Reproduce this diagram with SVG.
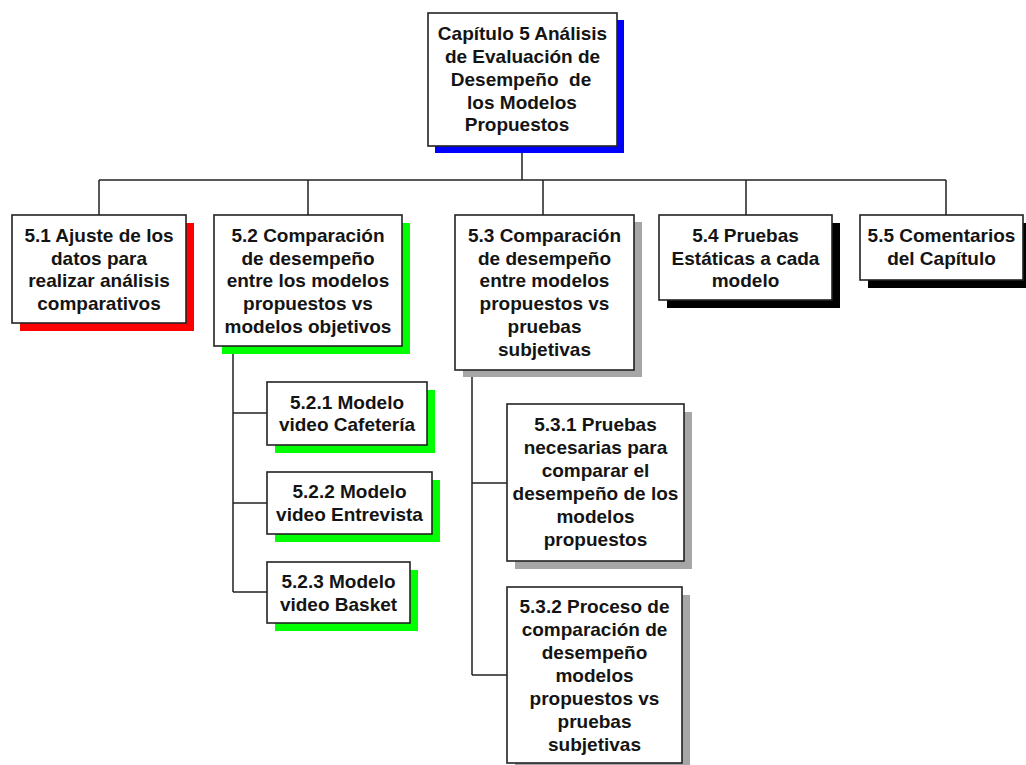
<svg xmlns="http://www.w3.org/2000/svg" width="1026" height="765" viewBox="0 0 1026 765">
<style>
.box{fill:#fff;stroke:#222;stroke-width:1.6}
.t{font-family:"Liberation Sans",Arial,sans-serif;font-weight:bold;font-size:19px;fill:#141414;text-anchor:middle}
.c{fill:none;stroke:#222;stroke-width:1.5}
</style>
<rect width="1026" height="765" fill="#fff"/>
<g id="connectors">
<path class="c" d="M522 146V180M99 180H946M99 180V215M308 180V215M543 180V215M746 180V215M946 180V215"/>
<path class="c" d="M233 346V592M233 413H267M233 503H267M233 592H267"/>
<path class="c" d="M472 370V675M472 483H507M472 675H507"/>
</g>
<g id="n0">
<rect x="435" y="20" width="189" height="133" fill="#0000ff"/>
<rect class="box" x="428" y="13" width="189" height="133"/>
<text class="t"><tspan x="522.5" y="40">Capítulo 5 Análisis</tspan><tspan x="522.5" y="63">de Evaluación de</tspan><tspan x="521" y="86" xml:space="preserve">Desempeño  de</tspan><tspan x="522" y="108.5">los Modelos</tspan><tspan x="517" y="131">Propuestos</tspan></text>
</g>
<g id="n51">
<rect x="20" y="223" width="174" height="108" fill="#ff0000"/>
<rect class="box" x="12" y="215" width="174" height="108"/>
<text class="t"><tspan x="99" y="241.7">5.1 Ajuste de los</tspan><tspan x="99" y="264.5">datos para</tspan><tspan x="99" y="287.3">realizar análisis</tspan><tspan x="99" y="310">comparativos</tspan></text>
</g>
<g id="n52">
<rect x="222" y="223" width="188" height="131" fill="#00ff00"/>
<rect class="box" x="214" y="215" width="188" height="131"/>
<text class="t"><tspan x="308" y="241.7">5.2 Comparación</tspan><tspan x="308" y="264.5">de desempeño</tspan><tspan x="308" y="287.3">entre los modelos</tspan><tspan x="308" y="310">propuestos vs</tspan><tspan x="308" y="332.8">modelos objetivos</tspan></text>
</g>
<g id="n53">
<rect x="463" y="222" width="179" height="155" fill="#a6a6a6"/>
<rect class="box" x="455" y="215" width="179" height="155"/>
<text class="t"><tspan x="544.5" y="241.7">5.3 Comparación</tspan><tspan x="544.5" y="264.5">de desempeño</tspan><tspan x="544.5" y="287.3">entre modelos</tspan><tspan x="544.5" y="310">propuestos vs</tspan><tspan x="544.5" y="332.8">pruebas</tspan><tspan x="544.5" y="355.6">subjetivas</tspan></text>
</g>
<g id="n54">
<rect x="667" y="223" width="173" height="85" fill="#000"/>
<rect class="box" x="659" y="215" width="173" height="85"/>
<text class="t"><tspan x="745.5" y="241.7">5.4 Pruebas</tspan><tspan x="745.5" y="264.5">Estáticas a cada</tspan><tspan x="745.5" y="287.3">modelo</tspan></text>
</g>
<g id="n55">
<rect x="868" y="223" width="164" height="65" fill="#000"/>
<rect class="box" x="860" y="215" width="163" height="65"/>
<text class="t"><tspan x="941.5" y="241.7">5.5 Comentarios</tspan><tspan x="941.5" y="264.5">del Capítulo</tspan></text>
</g>
<g id="n521">
<rect x="275" y="390" width="160" height="63" fill="#00ff00"/>
<rect class="box" x="267" y="382" width="160" height="63"/>
<text class="t"><tspan x="347" y="408.5">5.2.1 Modelo</tspan><tspan x="347" y="431.3">video Cafetería</tspan></text>
</g>
<g id="n522">
<rect x="275" y="480" width="165" height="62" fill="#00ff00"/>
<rect class="box" x="267" y="472" width="165" height="62"/>
<text class="t"><tspan x="349.5" y="498.3">5.2.2 Modelo</tspan><tspan x="349.5" y="521.1">video Entrevista</tspan></text>
</g>
<g id="n523">
<rect x="275" y="570" width="143" height="61" fill="#00ff00"/>
<rect class="box" x="267" y="562" width="143" height="61"/>
<text class="t"><tspan x="338.5" y="588">5.2.3 Modelo</tspan><tspan x="338.5" y="610.8">video Basket</tspan></text>
</g>
<g id="n531">
<rect x="515" y="412" width="177" height="157" fill="#a6a6a6"/>
<rect class="box" x="507" y="404" width="177" height="157"/>
<text class="t"><tspan x="595.5" y="431">5.3.1 Pruebas</tspan><tspan x="595.5" y="454">necesarias para</tspan><tspan x="595.5" y="477">comparar el</tspan><tspan x="595.5" y="500">desempeño de los</tspan><tspan x="595.5" y="523">modelos</tspan><tspan x="595.5" y="546">propuestos</tspan></text>
</g>
<g id="n532">
<rect x="515" y="595" width="175" height="180" fill="#a6a6a6"/>
<rect class="box" x="507" y="587" width="175" height="176"/>
<text class="t"><tspan x="594.5" y="613">5.3.2 Proceso de</tspan><tspan x="594.5" y="636">comparación de</tspan><tspan x="594.5" y="659">desempeño</tspan><tspan x="594.5" y="682">modelos</tspan><tspan x="594.5" y="705">propuestos vs</tspan><tspan x="594.5" y="728">pruebas</tspan><tspan x="594.5" y="751">subjetivas</tspan></text>
</g>
</svg>
